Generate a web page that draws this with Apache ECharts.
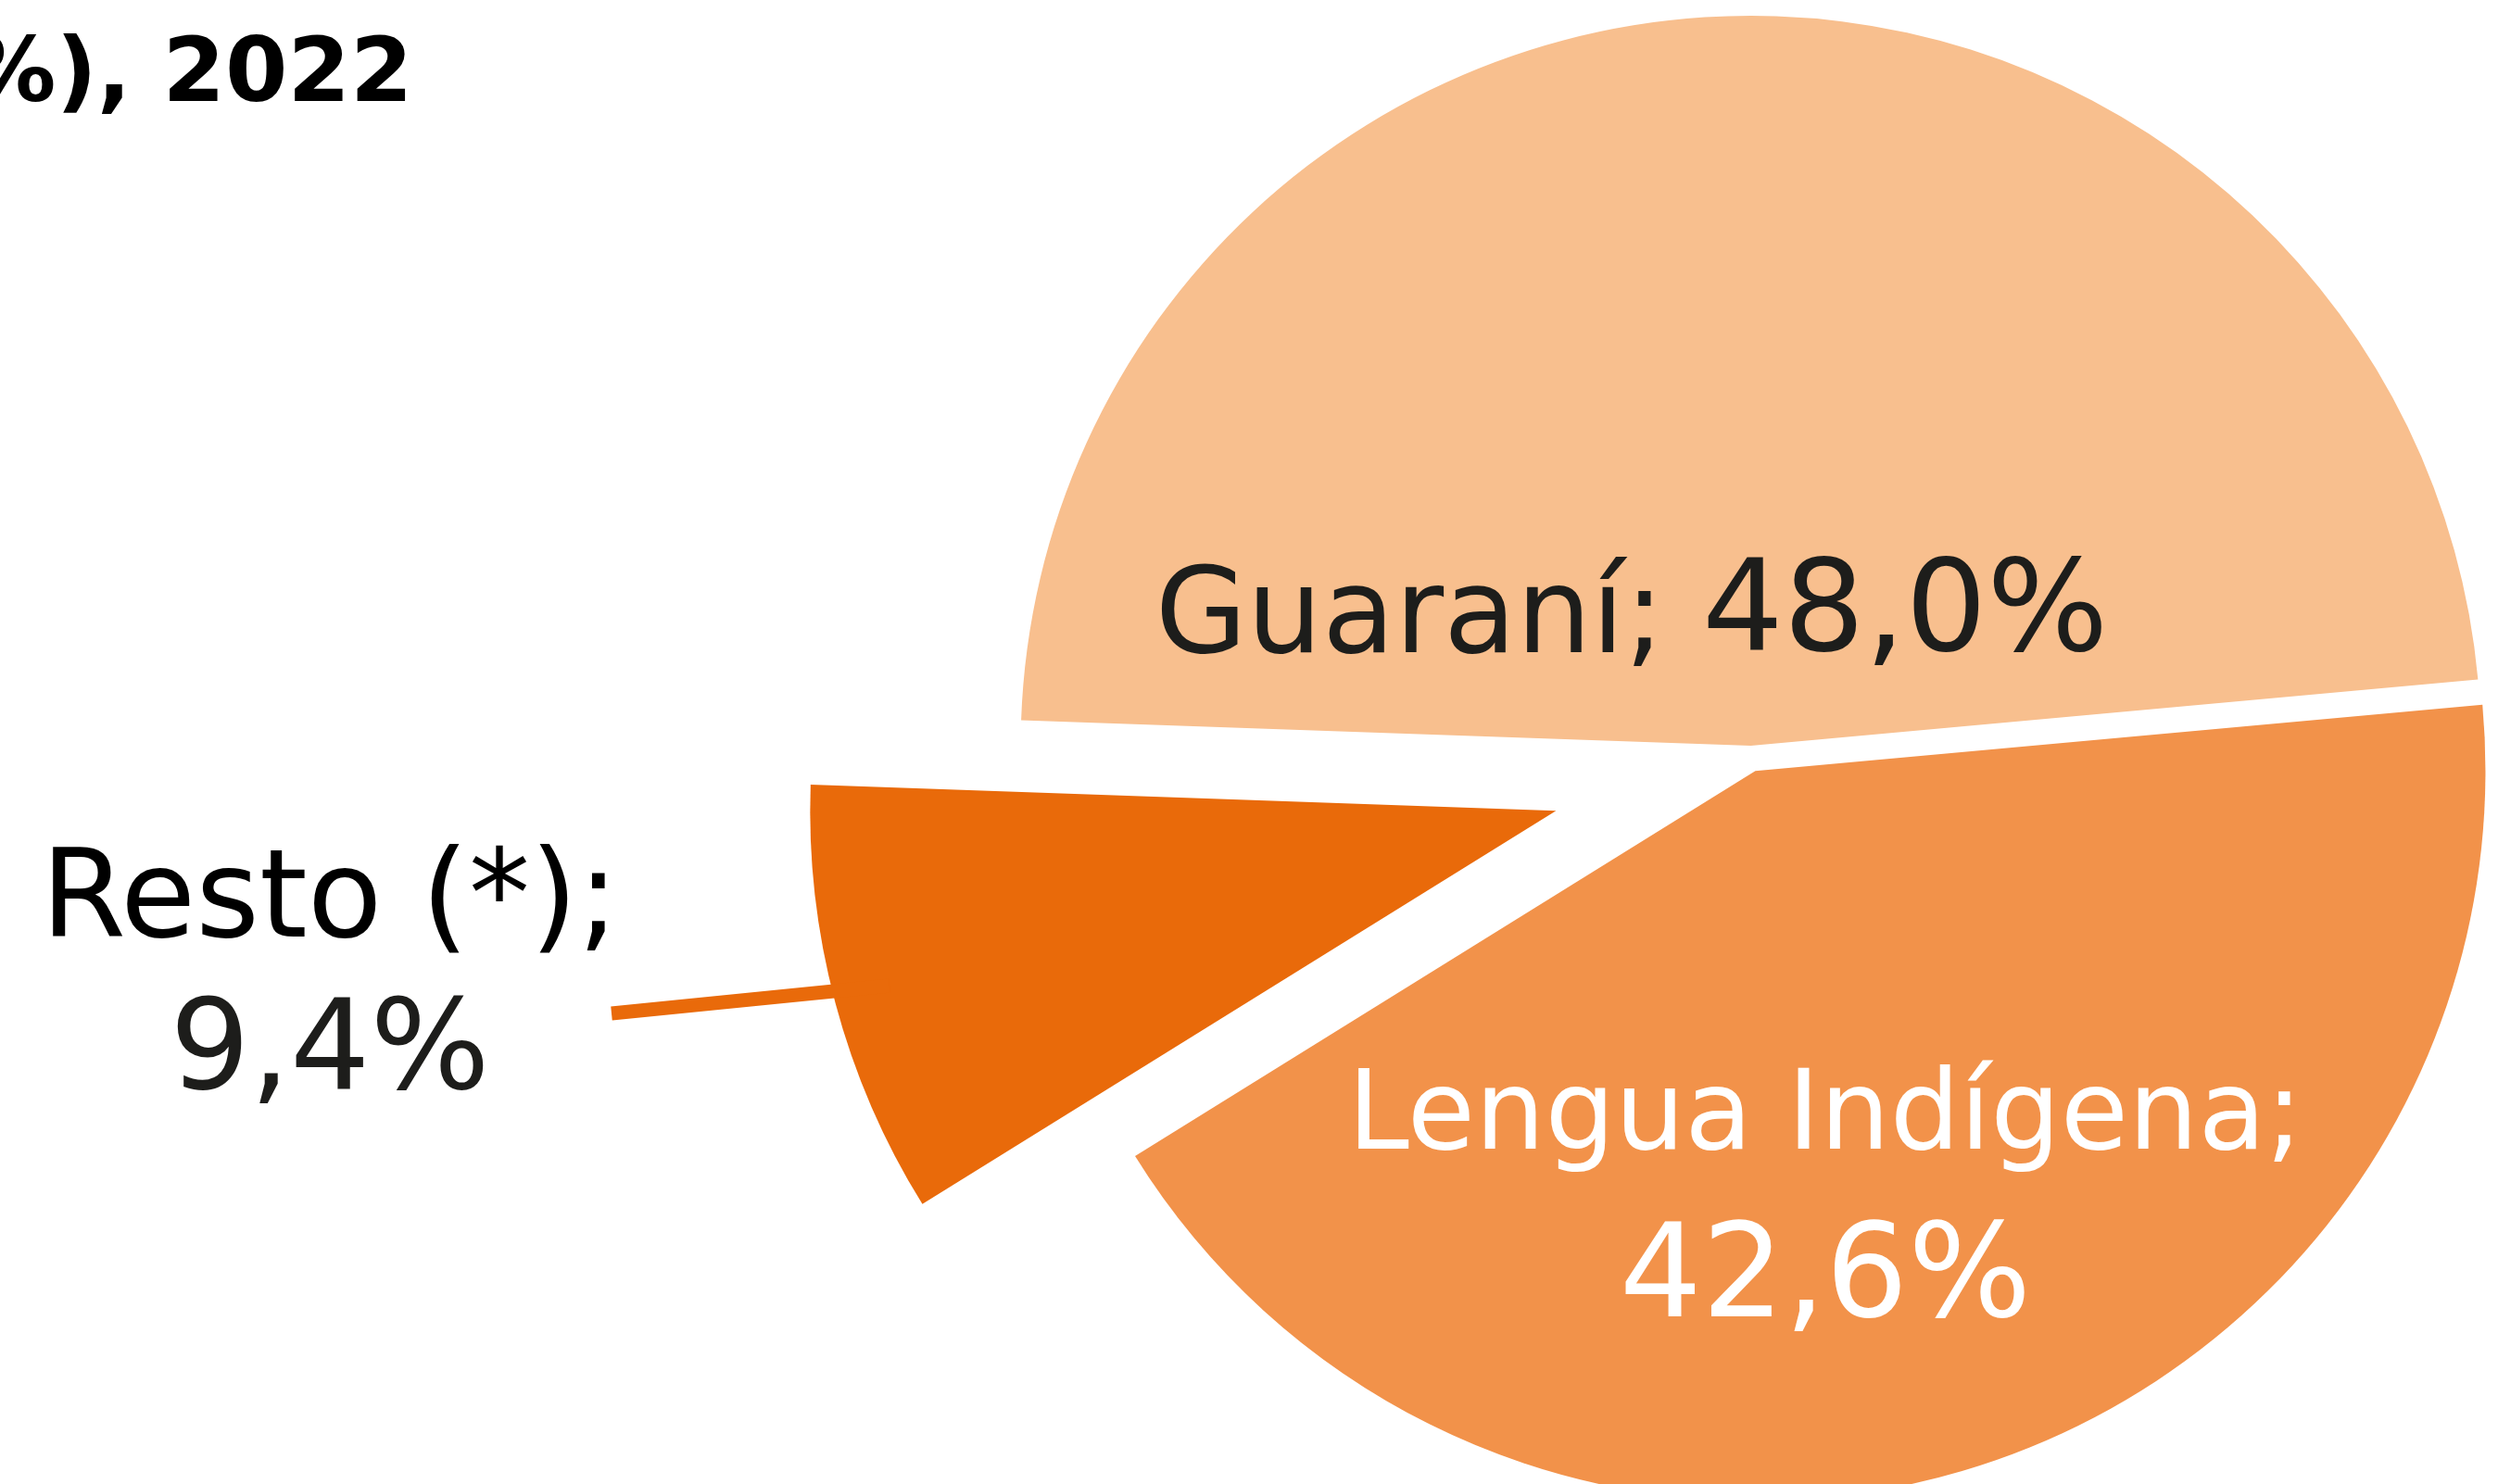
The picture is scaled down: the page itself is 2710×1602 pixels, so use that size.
<!DOCTYPE html>
<html>
<head>
<meta charset="utf-8">
<title>Idioma hablado</title>
<script src="https://cdn.jsdelivr.net/npm/echarts@6/dist/echarts.min.js"></script>
<style>
html, body { margin: 0; padding: 0; background: #fff; }
#main { width: 2710px; height: 1602px; }
</style>
</head>
<body>
<div id="main"></div>
<script>
// datos
var categories = ['Guaraní', 'Lengua Indígena', 'Resto (*)'];
var shares = [48.0, 42.6, 9.4];
var titleText = '(%), 2022';

var colors = ['#F8BF8E', '#F2924A', '#E96A0A'];
var styleKeys = ['g', 'l', 'r'];
var separators = [' ', '\n', '\n'];
// label centres (px)
var labelSpots = [[1761, 666], [1970, 1305], [356, 1058]];

var dom = document.getElementById('main');
var myChart = echarts.init(dom);

function fmt(v) {
    return v.toFixed(1).replace('.', ',') + '%';
}

// slices: only the listed ones are painted, the rest keep their angle but are invisible
function pieData(show) {
    return categories.map(function (name, i) {
        var on = show.indexOf(i) >= 0;
        return {
            name: name,
            value: shares[i],
            selected: on,
            itemStyle: { color: on ? colors[i] : 'rgba(0,0,0,0)' }
        };
    });
}

// labels only, on an invisible copy of the pie
function labelData() {
    return categories.map(function (name, i) {
        return {
            name: name,
            value: shares[i],
            itemStyle: { color: 'rgba(0,0,0,0)' },
            labelLine: { show: i === 2 }
        };
    });
}

var rich = {
    gn: { fontFamily: 'DejaVu Sans', fontSize: 128, color: '#1d1d1b', verticalAlign: 'bottom' },
    gv: { fontFamily: 'DejaVu Sans', fontSize: 138, color: '#1d1d1b', verticalAlign: 'bottom' },
    ln: { fontFamily: 'DejaVu Sans', fontSize: 119, color: '#ffffff', lineHeight: 160 },
    lv: { fontFamily: 'DejaVu Sans', fontSize: 140, color: '#ffffff', lineHeight: 192 },
    rn: { fontFamily: 'DejaVu Sans', fontSize: 132, color: '#000000', lineHeight: 163 },
    rv: { fontFamily: 'DejaVu Sans', fontSize: 136, color: '#1d1d1b', lineHeight: 163 }
};

function layout(p) {
    var s = labelSpots[p.dataIndex];
    var out = { x: s[0], y: s[1], align: 'center', verticalAlign: 'middle' };
    if (p.dataIndex === 2) {
        out.labelLinePoints = [[960, 1064], [960, 1064], [660, 1094]];
    }
    return out;
}

var base = {
    type: 'pie',
    center: [1890, 819],
    startAngle: 178,
    clockwise: true,
    avoidLabelOverlap: false,
    emphasis: { disabled: true }
};

var option = {
    backgroundColor: '#ffffff',
    animation: false,
    title: {
        text: titleText,
        left: -86,
        top: 30,
        textStyle: {
            fontFamily: 'DejaVu Sans',
            fontWeight: 'bold',
            fontSize: 97,
            color: '#000000'
        }
    },
    series: [
        Object.assign({}, base, {
            radius: 788,
            selectedMode: 'multiple',
            selectedOffset: 14,
            label: { show: false },
            labelLine: { show: false },
            data: pieData([0, 1])
        }),
        Object.assign({}, base, {
            radius: 805,
            selectedMode: 'multiple',
            selectedOffset: 218,
            label: { show: false },
            labelLine: { show: false },
            data: pieData([2])
        }),
        Object.assign({}, base, {
            radius: 788,
            silent: true,
            z: 3,
            label: {
                show: true,
                position: 'outside',
                formatter: function (p) {
                    var k = styleKeys[p.dataIndex];
                    var sep = separators[p.dataIndex];
                    return '{' + k + 'n|' + p.name + ';' + (sep === ' ' ? ' ' : '') + '}' +
                        (sep === ' ' ? '' : sep) + '{' + k + 'v|' + fmt(p.value) + '}';
                },
                rich: rich
            },
            labelLine: {
                length: 20,
                length2: 20,
                smooth: false,
                lineStyle: { color: colors[2], width: 15 }
            },
            labelLayout: layout,
            data: labelData()
        })
    ]
};

if (option && typeof option === 'object') {
    myChart.setOption(option, true);
}
window.addEventListener('resize', function () {
    myChart.resize();
});
</script>
</body>
</html>
